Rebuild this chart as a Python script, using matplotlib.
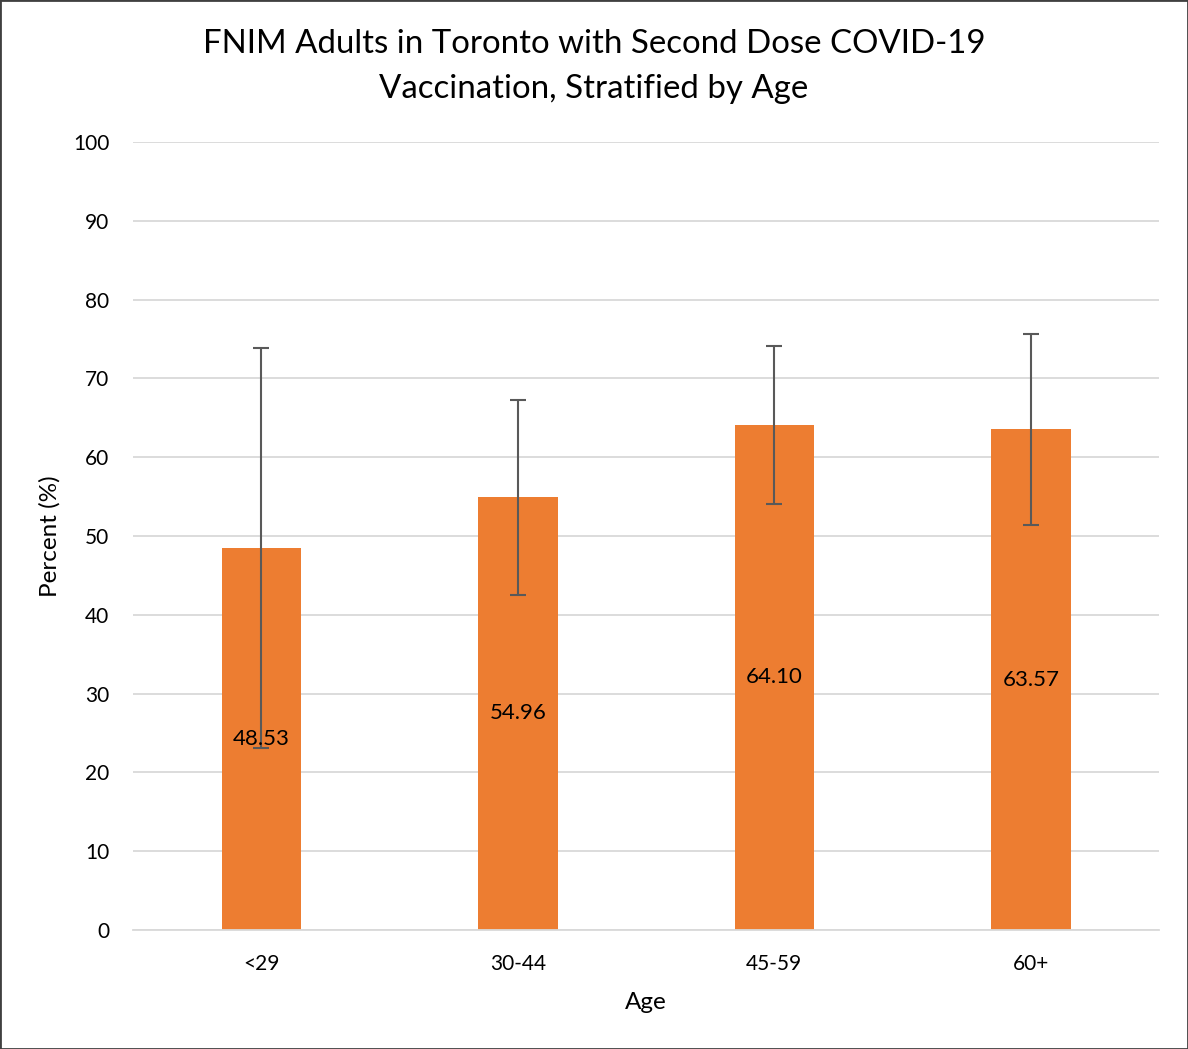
import matplotlib
matplotlib.use("Agg")
import matplotlib.pyplot as plt
from matplotlib.patches import Rectangle

plt.rcParams['font.family'] = ['Lato', 'DejaVu Sans']

# data
ages = ["<29", "30-44", "45-59", "60+"]
percent = [48.53, 54.96, 64.10, 63.57]
ci_low = [23.1, 42.5, 54.1, 51.4]
ci_high = [73.9, 67.3, 74.1, 75.6]

err_lo = [p - lo for p, lo in zip(percent, ci_low)]
err_hi = [hi - p for p, hi in zip(percent, ci_high)]

fig = plt.figure(figsize=(11.88, 10.49), dpi=100)
ax = fig.add_axes([0.112, 0.1134, 0.8636, 0.7512])

x = range(len(ages))
ax.bar(x, percent, width=0.31, color='#ED7D31', zorder=2)
ax.errorbar(x, percent, yerr=[err_lo, err_hi], fmt='none', ecolor='#595959',
            elinewidth=1.5, capsize=6, capthick=1.5, zorder=3)

for xi, p in zip(x, percent):
    ax.text(xi, p / 2, f"{p:.2f}", ha='center', va='center', fontsize=16,
            color='black', zorder=4)

ax.set_xlim(-0.5, len(ages) - 0.5)
ax.set_ylim(0, 100)
ax.set_yticks(range(0, 101, 10))
ax.set_xticks(list(x))
ax.set_xticklabels(ages)
ax.yaxis.grid(True, color='#D9D9D9', linewidth=1.3, zorder=0)
ax.set_axisbelow(True)
for s in ['top', 'right', 'left']:
    ax.spines[s].set_visible(False)
ax.spines['bottom'].set_color('#D9D9D9')
ax.spines['bottom'].set_linewidth(1.3)
ax.tick_params(axis='both', length=0, labelsize=15, colors='black')
ax.tick_params(axis='x', pad=17)
ax.tick_params(axis='y', pad=17)

ax.set_xlabel("Age", fontsize=17.5, labelpad=13)
ax.set_ylabel("Percent (%)", fontsize=17.5, labelpad=9)

fig.text(0.5, 0.937, "FNIM Adults in Toronto with Second Dose COVID-19\nVaccination, Stratified by Age",
         ha='center', va='center', fontsize=23.8, linespacing=1.62)

fig.patches.append(Rectangle((0, 0), 1, 1, transform=fig.transFigure, fill=False,
                             edgecolor='#404040', linewidth=2))

fig.savefig("out.png", dpi=100)
